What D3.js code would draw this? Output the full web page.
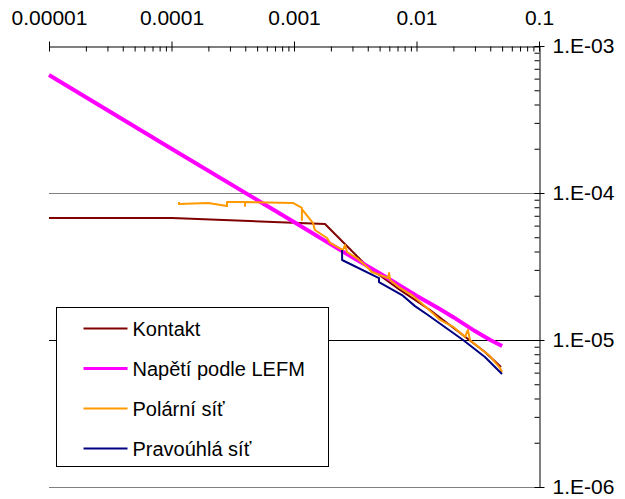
<!DOCTYPE html>
<html>
<head>
<meta charset="utf-8">
<script src="https://cdn.jsdelivr.net/npm/d3@7/dist/d3.min.js"></script>
<style>
	body { margin: 0; background: #fff; }
	svg { display: block; font-family: "Liberation Sans", Arial, sans-serif; }
</style>
</head>
<body>
<div id="chart"></div>
<script>
// values (x = distance, y = value), log-log
const xTicks = [1e-5, 1e-4, 1e-3, 1e-2, 1e-1];
const xTickLabels = ['0.00001', '0.0001', '0.001', '0.01', '0.1'];
const yTicks = [1e-6, 1e-5, 1e-4, 1e-3];
const yTickLabels = ['1.E-06', '1.E-05', '1.E-04', '1.E-03'];

const kontakt = [
	[1e-5, 6.76e-5], [1.01e-4, 6.76e-5], [1.79e-3, 6.15e-5], [3.94e-3, 3.18e-5],
	[5.2e-3, 2.7e-5], [7.33e-3, 2.19e-5], [1.29e-2, 1.6e-5], [2.26e-2, 1.12e-5],
	[3.62e-2, 8.28e-6], [4.9e-2, 6.55e-6]
];

const lefm = [
	[1e-5, 6.35e-4], [1e-4, 2.0e-4], [1e-3, 6.35e-5], [3e-3, 3.65e-5],
	[5e-3, 2.85e-5], [1e-2, 2.0e-5], [1.5e-2, 1.65e-5], [2e-2, 1.43e-5],
	[3e-2, 1.15e-5], [4e-2, 1.0e-5], [5e-2, 9.1e-6]
];

const polarni = [
	[1.15e-4, 8.69e-5], [1.15e-4, 8.41e-5], [1.99e-4, 8.56e-5], [2.84e-4, 8.16e-5],
	[2.84e-4, 8.69e-5], [3.98e-4, 8.69e-5], [3.98e-4, 8.16e-5], [3.98e-4, 8.69e-5],
	[9.81e-4, 8.56e-5], [1.16e-3, 7.91e-5], [1.16e-3, 6.55e-5], [1.16e-3, 7.78e-5],
	[1.43e-3, 6.25e-5], [1.48e-3, 5.6e-5], [1.86e-3, 4.94e-5], [1.97e-3, 4.57e-5],
	[2.51e-3, 4.09e-5], [2.61e-3, 4.43e-5], [2.71e-3, 3.97e-5], [3.33e-3, 3.56e-5],
	[4.02e-3, 3.09e-5], [4.33e-3, 2.9e-5], [5.04e-3, 2.77e-5], [5.85e-3, 2.64e-5],
	[5.97e-3, 2.86e-5], [6.08e-3, 2.56e-5], [7.33e-3, 2.26e-5], [9.18e-3, 2.02e-5],
	[1.22e-2, 1.65e-5], [1.56e-2, 1.37e-5], [1.99e-2, 1.23e-5], [2.49e-2, 1.05e-5],
	[2.63e-2, 1.17e-5], [2.73e-2, 1.0e-5], [3.43e-2, 8.55e-6], [3.98e-2, 7.78e-6],
	[4.37e-2, 7.08e-6], [4.81e-2, 6.45e-6], [4.99e-2, 6.06e-6]
];

const pravouhla = [
	[2.47e-3, 4.09e-5], [2.47e-3, 3.5e-5], [4.94e-3, 2.64e-5], [4.94e-3, 2.48e-5],
	[7.62e-3, 2.02e-5], [9.72e-3, 1.7e-5], [1.24e-2, 1.48e-5], [2.4e-2, 1.0e-5],
	[3.62e-2, 7.66e-6], [4.99e-2, 5.87e-6]
];

const seriesNames = ['Kontakt', 'Napětí podle LEFM', 'Polární síť', 'Pravoúhlá síť'];
const seriesData = [kontakt, lefm, polarni, pravouhla];
const seriesColors = ['#800000', '#ff00ff', '#ff9900', '#000080'];
const seriesWidths = [2, 4, 2, 2];

const width = 625;
const height = 499;

const svg = d3.select('#chart').append('svg')
	.attr('width', width)
	.attr('height', height);

const x = d3.scaleLog().domain([1e-5, 0.1]).range([49, 539]);
const y = d3.scaleLog().domain([1e-6, 1e-3]).range([487, 46]);

const minorX = [];
[1e-5, 1e-4, 1e-3, 1e-2].forEach(d => {
	for (let k = 2; k <= 9; k++) minorX.push(d * k);
});
const minorY = [];
[1e-6, 1e-5, 1e-4].forEach(d => {
	for (let k = 2; k <= 9; k++) minorY.push(d * k);
});

// horizontal grid lines
const gridColors = ['#808080', '#000000', '#808080'];
svg.append('g')
	.selectAll('line')
	.data(yTicks.slice(0, 3))
	.join('line')
	.attr('x1', x.range()[0])
	.attr('x2', x.range()[1])
	.attr('y1', d => Math.round(y(d)) + 0.5)
	.attr('y2', d => Math.round(y(d)) + 0.5)
	.attr('stroke', (d, i) => gridColors[i])
	.attr('stroke-width', 1);

// top axis
const axisTopY = Math.round(y.range()[1]) + 0.5;
const gxMinor = svg.append('g')
	.attr('transform', `translate(0,${axisTopY})`)
	.call(d3.axisBottom(x).tickValues(minorX).tickSize(5).tickSizeOuter(0).tickFormat(''));
gxMinor.select('.domain').remove();

const gx = svg.append('g')
	.attr('transform', `translate(0,${axisTopY})`)
	.call(d3.axisTop(x).tickValues(xTicks).tickSize(5).tickSizeOuter(0)
		.tickFormat((d, i) => xTickLabels[i]));
gx.select('.domain').attr('stroke', '#000');
gx.selectAll('.tick line').attr('y1', 5).attr('stroke', '#000');
gx.selectAll('.tick text')
	.attr('y', -22)
	.attr('font-size', 21)
	.attr('fill', '#000');

// right axis
const axisRightX = Math.round(x.range()[1]) + 0.5;
const gyMinor = svg.append('g')
	.attr('transform', `translate(${axisRightX},0)`)
	.call(d3.axisLeft(y).tickValues(minorY).tickSize(5).tickSizeOuter(0).tickFormat(''));
gyMinor.select('.domain').remove();

const gy = svg.append('g')
	.attr('transform', `translate(${axisRightX},0)`)
	.call(d3.axisRight(y).tickValues(yTicks).tickSize(5).tickSizeOuter(0)
		.tickFormat((d, i) => yTickLabels[i]));
gy.select('.domain').attr('stroke', '#000');
gy.selectAll('.tick line').attr('x1', -5).attr('stroke', '#000');
gy.selectAll('.tick text')
	.attr('x', 13)
	.attr('font-size', 21)
	.attr('fill', '#000');

// series
const line = d3.line()
	.x(d => x(d[0]))
	.y(d => y(d[1]));

svg.append('g')
	.selectAll('path')
	.data(seriesData)
	.join('path')
	.attr('d', line)
	.attr('fill', 'none')
	.attr('stroke', (d, i) => seriesColors[i])
	.attr('stroke-width', (d, i) => seriesWidths[i])
	.attr('stroke-linejoin', 'round');

// legend
const legend = svg.append('g').attr('transform', 'translate(56.5,307.5)');
legend.append('rect')
	.attr('width', 272)
	.attr('height', 159)
	.attr('fill', '#fff')
	.attr('stroke', '#000');

const items = legend.selectAll('g.item')
	.data(seriesNames)
	.join('g')
	.attr('class', 'item')
	.attr('transform', (d, i) => `translate(0,${21 + i * 40})`);

items.append('line')
	.attr('x1', 27)
	.attr('x2', 71)
	.attr('stroke', (d, i) => seriesColors[i])
	.attr('stroke-width', (d, i) => seriesWidths[i] === 4 ? 3 : 2);

items.append('text')
	.attr('x', 76)
	.attr('y', 7)
	.attr('font-size', 20)
	.text(d => d);
</script>
</body>
</html>
